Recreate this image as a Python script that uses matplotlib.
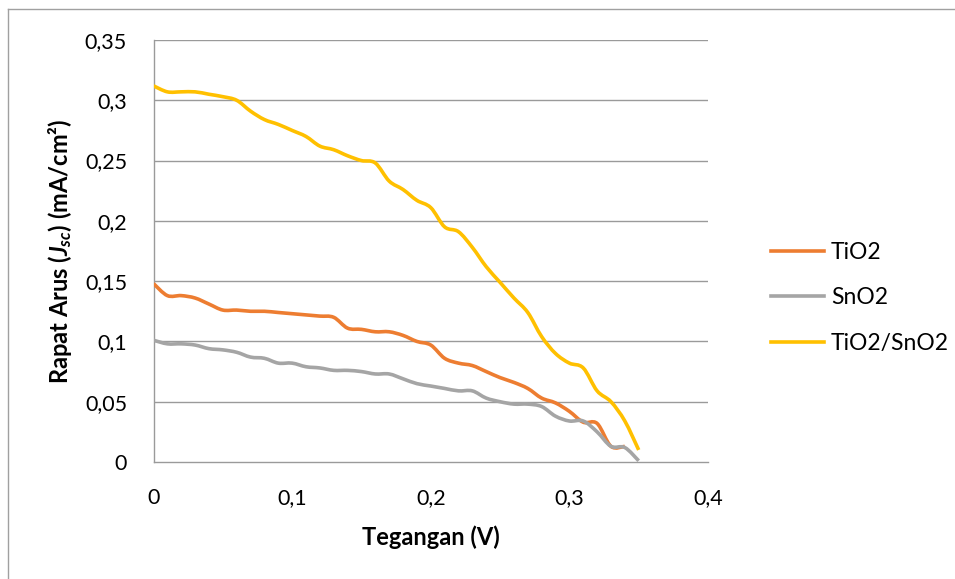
import matplotlib
matplotlib.use("Agg")
import matplotlib.pyplot as plt
from matplotlib.lines import Line2D
from matplotlib.path import Path
from matplotlib.patches import PathPatch

plt.rcParams['font.family'] = ['Lato', 'DejaVu Sans']
plt.rcParams['mathtext.fontset'] = 'custom'
plt.rcParams['mathtext.it'] = 'Lato:italic:bold'
plt.rcParams['mathtext.rm'] = 'Lato:bold'
plt.rcParams['mathtext.bf'] = 'Lato:bold'

# Data (voltage in V, current density in mA/cm2)
v_tio2 = [0.00, 0.01, 0.02, 0.03, 0.04, 0.05, 0.06, 0.07, 0.08, 0.09, 0.10, 0.11,
          0.12, 0.13, 0.14, 0.15, 0.16, 0.17, 0.18, 0.19, 0.20, 0.21, 0.22, 0.23,
          0.24, 0.25, 0.26, 0.27, 0.28, 0.29, 0.30, 0.31, 0.32, 0.33, 0.34]
j_tio2 = [0.148, 0.138, 0.138, 0.136, 0.131, 0.126, 0.126, 0.125, 0.125, 0.124, 0.123, 0.122,
          0.121, 0.120, 0.111, 0.110, 0.108, 0.108, 0.105, 0.100, 0.097, 0.086, 0.082, 0.080,
          0.075, 0.070, 0.066, 0.061, 0.053, 0.049, 0.042, 0.033, 0.032, 0.013, 0.013]

v_sno2 = [0.00, 0.01, 0.02, 0.03, 0.04, 0.05, 0.06, 0.07, 0.08, 0.09, 0.10, 0.11,
          0.12, 0.13, 0.14, 0.15, 0.16, 0.17, 0.18, 0.19, 0.20, 0.21, 0.22, 0.23,
          0.24, 0.25, 0.26, 0.27, 0.28, 0.29, 0.30, 0.31, 0.32, 0.33, 0.34, 0.35]
j_sno2 = [0.101, 0.098, 0.098, 0.097, 0.094, 0.093, 0.091, 0.087, 0.086, 0.082, 0.082, 0.079,
          0.078, 0.076, 0.076, 0.075, 0.073, 0.073, 0.069, 0.065, 0.063, 0.061, 0.059, 0.059,
          0.053, 0.050, 0.048, 0.048, 0.046, 0.038, 0.034, 0.034, 0.025, 0.013, 0.012, 0.001]

v_mix = [0.00, 0.01, 0.02, 0.03, 0.04, 0.05, 0.06, 0.07, 0.08, 0.09, 0.10, 0.11,
         0.12, 0.13, 0.14, 0.15, 0.16, 0.17, 0.18, 0.19, 0.20, 0.21, 0.22, 0.23,
         0.24, 0.25, 0.26, 0.27, 0.28, 0.29, 0.30, 0.31, 0.32, 0.33, 0.34, 0.35]
j_mix = [0.312, 0.307, 0.307, 0.307, 0.305, 0.303, 0.300, 0.291, 0.284, 0.280, 0.275, 0.270,
         0.262, 0.259, 0.254, 0.250, 0.248, 0.233, 0.226, 0.217, 0.211, 0.195, 0.191, 0.178,
         0.162, 0.149, 0.136, 0.124, 0.104, 0.090, 0.082, 0.078, 0.059, 0.050, 0.034, 0.010]

series_names = ["TiO2", "SnO2", "TiO2/SnO2"]
series_colors = ["#ED7D31", "#A5A5A5", "#FFC000"]

x_ticks = [0, 0.1, 0.2, 0.3, 0.4]
x_tick_labels = ["0", "0,1", "0,2", "0,3", "0,4"]
y_ticks = [0, 0.05, 0.1, 0.15, 0.2, 0.25, 0.3, 0.35]
y_tick_labels = ["0", "0,05", "0,1", "0,15", "0,2", "0,25", "0,3", "0,35"]


def smooth_path(xs, ys, k=1 / 6):
    """Excel-like smoothed line: cubic Bezier segments through the data points."""
    n = len(xs)
    verts = [(xs[0], ys[0])]
    codes = [Path.MOVETO]
    for i in range(n - 1):
        x0, y0 = xs[max(i - 1, 0)], ys[max(i - 1, 0)]
        x1, y1 = xs[i], ys[i]
        x2, y2 = xs[i + 1], ys[i + 1]
        x3, y3 = xs[min(i + 2, n - 1)], ys[min(i + 2, n - 1)]
        c1 = (x1 + (x2 - x0) * k, y1 + (y2 - y0) * k)
        c2 = (x2 - (x3 - x1) * k, y2 - (y3 - y1) * k)
        verts += [c1, c2, (x2, y2)]
        codes += [Path.CURVE4] * 3
    return Path(verts, codes)


W, H = 955, 579
fig = plt.figure(figsize=(W / 100, H / 100), dpi=100)

border_color = "#A0A0A0"
fig.add_artist(Line2D([8 / W, 1.0], [1 - 9 / H, 1 - 9 / H], color=border_color, lw=1.0,
                      transform=fig.transFigure))
fig.add_artist(Line2D([8 / W, 8 / W], [0.0, 1 - 9 / H], color=border_color, lw=1.0,
                      transform=fig.transFigure))

left, right, top, bottom = 153.5, 708, 40, 462
ax = fig.add_axes([left / W, 1 - bottom / H, (right - left) / W, (bottom - top) / H])

grid_color = "#9A9A9A"
for yt in y_ticks[1:]:
    ax.axhline(yt, color=grid_color, lw=1.0, zorder=1)

data = [(v_tio2, j_tio2), (v_sno2, j_sno2), (v_mix, j_mix)]
handles = []
for (xv, yv), name, col in zip(data, series_names, series_colors):
    patch = PathPatch(smooth_path(xv, yv), facecolor='none', edgecolor=col, lw=2.6,
                      joinstyle='round', capstyle='butt', zorder=3)
    ax.add_patch(patch)
    handles.append(Line2D([], [], color=col, lw=2.6, label=name))

ax.set_xlim(0, 0.4)
ax.set_ylim(0, 0.35)
ax.set_xticks(x_ticks)
ax.set_xticklabels(x_tick_labels)
ax.set_yticks(y_ticks)
ax.set_yticklabels(y_tick_labels)
ax.tick_params(axis='both', length=0, labelsize=15.5, colors='black')
ax.tick_params(axis='y', pad=19)
ax.tick_params(axis='x', pad=19)

for s in ['top', 'right']:
    ax.spines[s].set_visible(False)
for s in ['left', 'bottom']:
    ax.spines[s].set_color(grid_color)
    ax.spines[s].set_linewidth(1.0)

ax.set_xlabel("Tegangan (V)", fontsize=17, fontweight='bold', labelpad=12)
ax.set_ylabel("Rapat Arus ($J_{sc}$) (mA/cm²)", fontsize=17, fontweight='bold', labelpad=8)

ax.legend(handles=handles, loc='center left',
          bbox_to_anchor=((762 - left) / (right - left), 1 - (298 - top) / (bottom - top)),
          frameon=False, fontsize=16.5, handlelength=2.3, handletextpad=0.3,
          labelspacing=1.05, borderaxespad=0)

fig.savefig("out.png", dpi=100)
